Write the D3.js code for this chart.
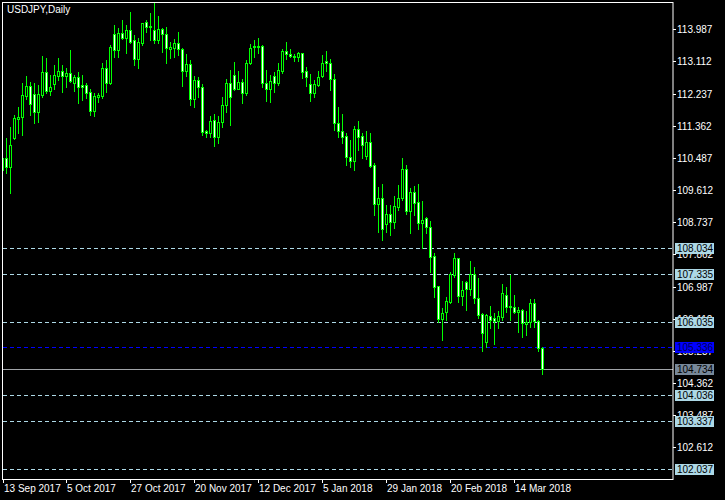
<!DOCTYPE html>
<html><head><meta charset="utf-8">
<script src="https://cdn.jsdelivr.net/npm/d3@7"></script>
<style>html,body{margin:0;padding:0;background:#000;overflow:hidden}svg{display:block}</style>
</head><body>
<svg id="c" width="725" height="500"></svg>
<script>
const symbolTitle = "USDJPY,Daily";
const openP = [110.158,110.476,110.231,111.038,111.555,111.591,112.181,112.444,112.217,111.727,
112.199,112.816,112.317,112.489,112.725,112.852,112.725,112.789,112.535,112.680,
112.462,112.462,112.272,111.773,112.154,112.181,112.925,112.516,113.850,113.423,
113.877,113.741,113.959,113.705,113.169,113.605,114.185,114.077,113.959,113.686,
113.986,113.850,113.442,113.469,113.605,113.442,112.861,113.043,112.081,112.607,
112.408,111.219,111.174,111.519,111.065,111.455,111.918,112.516,112.734,112.371,
112.544,112.262,113.061,113.514,113.532,113.532,112.516,112.371,112.716,112.516,
112.861,113.396,113.315,113.260,113.224,113.333,112.852,112.489,112.244,112.471,
112.716,113.115,113.061,112.625,111.428,111.228,111.083,110.503,110.412,111.265,
111.083,110.548,110.911,110.294,109.224,109.387,108.680,108.961,108.752,109.160,
109.387,110.176,109.052,109.550,109.278,108.725,108.843,108.616,107.818,107.002,
106.104,106.303,106.575,107.301,107.755,106.739,107.120,106.911,107.328,106.666,
106.231,105.487,106.194,106.122,106.049,106.167,106.748,106.457,106.439,106.303,
106.349,105.959,106.013,106.530,106.058,105.306];
const highP = [110.521,111.020,111.337,111.655,111.882,112.516,112.716,112.553,112.516,112.471,
113.260,113.197,112.743,113.015,113.197,113.015,112.925,113.423,112.743,112.834,
112.743,112.516,112.353,112.262,112.262,113.061,113.151,113.560,114.104,114.013,
114.240,114.104,114.467,113.832,113.741,114.167,114.240,114.421,114.693,114.349,
114.013,114.058,113.650,113.714,113.922,113.469,113.315,113.151,112.716,112.680,
112.498,111.247,111.628,111.682,111.628,112.154,112.634,112.879,113.097,112.852,
112.625,113.151,113.578,113.696,113.741,113.560,112.879,112.743,112.834,113.061,
113.451,113.650,113.442,113.315,113.378,113.351,112.970,112.770,112.607,112.852,
113.287,113.396,113.169,112.770,111.882,111.682,111.174,110.974,111.355,111.491,
111.174,111.219,111.156,110.340,109.686,109.777,109.206,109.206,109.451,109.750,
110.476,110.294,109.659,109.723,109.777,109.315,108.888,108.770,107.891,107.002,
106.394,106.711,107.392,107.891,107.755,107.138,107.138,107.682,107.528,107.210,
106.276,106.240,106.457,106.258,106.321,107.056,106.965,107.301,106.757,106.439,
106.367,106.321,106.639,106.648,106.076,105.333];
const lowP = [110.113,110.067,109.541,110.993,111.174,111.111,112.090,111.655,111.446,111.473,
112.154,112.244,112.199,112.353,112.607,112.290,112.408,112.562,112.317,111.972,
112.063,112.108,111.655,111.628,112.018,112.108,112.290,112.498,113.224,113.224,
113.714,113.333,113.623,113.015,112.925,113.560,113.922,113.696,113.623,113.623,
113.378,113.079,113.197,113.224,113.287,112.444,112.716,111.927,111.863,112.154,
111.111,111.047,111.047,110.811,110.902,111.337,111.745,111.383,112.335,112.353,
111.972,112.199,113.043,113.224,113.333,112.426,112.045,112.018,112.290,112.471,
112.807,113.169,113.242,113.133,113.133,112.652,112.444,112.045,112.154,112.444,
112.680,112.861,112.335,111.247,111.047,110.902,110.294,110.231,110.158,110.702,
110.476,110.448,110.231,108.934,108.480,108.253,108.480,108.390,108.589,109.070,
109.342,108.961,108.435,108.934,108.544,108.027,108.435,107.392,106.711,106.031,
105.532,106.076,106.548,107.256,106.575,106.485,106.349,106.757,106.530,106.122,
105.242,105.351,105.850,105.423,105.868,106.076,106.303,106.076,106.258,105.759,
105.605,105.668,105.895,105.877,105.242,104.607];
const closeP = [110.476,110.231,110.829,111.564,111.609,112.199,112.444,111.945,111.727,112.217,
112.816,112.317,112.426,112.743,112.852,112.725,112.798,112.589,112.680,112.426,
112.426,112.262,111.773,112.172,112.190,112.925,112.516,113.505,113.423,113.877,
113.741,113.959,113.650,113.169,113.632,114.149,114.058,114.040,113.686,113.986,
113.850,113.469,113.496,113.605,113.442,112.861,113.043,112.081,112.607,112.408,
111.201,111.174,111.491,111.065,111.455,111.918,112.516,112.135,112.371,112.544,
112.262,113.061,113.469,113.532,113.514,112.516,112.371,112.589,112.516,112.879,
113.396,113.306,113.269,113.224,113.351,112.834,112.680,112.244,112.489,112.698,
113.061,113.061,112.625,111.428,111.228,111.047,110.503,110.412,111.265,111.065,
110.838,110.911,110.276,109.224,109.387,108.553,108.961,108.752,109.179,109.387,
110.176,109.052,109.550,109.269,108.725,108.798,108.616,107.800,106.984,106.104,
106.258,106.594,107.328,107.755,106.739,106.893,106.911,107.328,106.666,106.213,
105.732,106.213,106.076,106.049,106.185,106.802,106.439,106.439,106.303,106.349,
105.986,106.013,106.530,106.058,105.306,104.734];
const dateLabels = ["13 Sep 2017","5 Oct 2017","27 Oct 2017","20 Nov 2017","12 Dec 2017","5 Jan 2018","29 Jan 2018","20 Feb 2018","14 Mar 2018"];
const dateLabelIdx = [0,16,32,48,64,80,96,112,128];
const priceTicks = [113.987,113.112,112.237,111.362,110.487,109.612,108.737,107.862,106.987,106.112,105.237,104.362,103.487,102.612];
const levelLines = [108.034,107.335,106.035,104.036,103.337,102.037];
const blueLevel = 105.336;
const bidLevel = 104.734;

const svg = d3.select("#c");
const L = 2, T = 2, R = 673, B = 479;
const x = d3.scaleLinear().domain([0, 135]).range([2, 542]);
const y = d3.scaleLinear().domain([113.987, 102.037]).range([29.3, 468.5]);
const FONT = "'Liberation Sans', Arial, sans-serif";

svg.append("rect").attr("width",725).attr("height",500).attr("fill","#000");
svg.append("defs").append("clipPath").attr("id","clip")
  .append("rect").attr("x",L+1).attr("y",T+1).attr("width",R-L-1).attr("height",B-T-1);

const plot = svg.append("g").attr("clip-path","url(#clip)");

// level lines
const dash = "4,3";
plot.selectAll("line.lvl").data(levelLines).join("line")
  .attr("x1",L+1).attr("x2",R)
  .attr("y1",d=>Math.round(y(d))+0.5).attr("y2",d=>Math.round(y(d))+0.5)
  .attr("stroke","#add8e6").attr("stroke-dasharray",dash).attr("stroke-width",1);
plot.append("line").attr("x1",L+1).attr("x2",R)
  .attr("y1",Math.round(y(blueLevel))+0.5).attr("y2",Math.round(y(blueLevel))+0.5)
  .attr("stroke","#0000ff").attr("stroke-dasharray",dash);
plot.append("line").attr("x1",L+1).attr("x2",R)
  .attr("y1",Math.round(y(bidLevel))+0.5).attr("y2",Math.round(y(bidLevel))+0.5)
  .attr("stroke","#a0a4a8");

// candles
const idx = d3.range(openP.length);
const G = "#00ff00";
const cg = plot.append("g");
idx.forEach(i=>{
  const cx = Math.round(x(i));
  const yh = Math.round(y(highP[i])), yl = Math.round(y(lowP[i]));
  const o = openP[i], c = closeP[i];
  const yt = Math.round(y(Math.max(o,c))), yb = Math.round(y(Math.min(o,c)));
  cg.append("rect").attr("x",cx).attr("y",yh).attr("width",1).attr("height",Math.max(1,yl-yh+1)).attr("fill",G);
  cg.append("rect").attr("x",cx-1).attr("y",yt).attr("width",3).attr("height",Math.max(1,yb-yt+1)).attr("fill",G);
  if (yb - yt >= 2) {
    cg.append("rect").attr("x",cx).attr("y",yt+1).attr("width",1).attr("height",yb-yt-1)
      .attr("fill", c < o ? "#ffffff" : "#000000");
  }
});

// frame
svg.append("rect").attr("x",L+0.5).attr("y",T+0.5).attr("width",R-L-0.5).attr("height",B-T)
  .attr("fill","none").attr("stroke","#fff");

// title
svg.append("text").attr("x",7).attr("y",13).attr("fill","#fff")
  .attr("font-family",FONT).attr("font-size","10px").text(symbolTitle);

// right axis ticks
const ra = svg.append("g");
priceTicks.forEach(p=>{
  const yy = Math.round(y(p));
  ra.append("line").attr("x1",R).attr("x2",R+3).attr("y1",yy+0.5).attr("y2",yy+0.5).attr("stroke","#fff");
  ra.append("text").attr("x",R+4).attr("y",yy+4).attr("fill","#fff")
    .attr("font-family",FONT).attr("font-size","10px").text(p.toFixed(3));
});

// level labels
function box(p, bg, fg){
  const yy = Math.round(y(p));
  ra.append("rect").attr("x",R+2).attr("y",yy-5).attr("width",39).attr("height",11).attr("fill",bg);
  ra.append("text").attr("x",R+4).attr("y",yy+4).attr("fill",fg)
    .attr("font-family",FONT).attr("font-size","10px").text(p.toFixed(3));
}
levelLines.forEach(p=>box(p,"#add8e6","#000"));
box(blueLevel,"#0000ff","#000050");
box(bidLevel,"#778899","#000");

// bottom axis
const ba = svg.append("g");
dateLabelIdx.forEach((di,k)=>{
  const xx = Math.max(L+1, Math.round(x(di)));
  ba.append("line").attr("x1",xx+0.5).attr("x2",xx+0.5).attr("y1",B).attr("y2",B+4).attr("stroke","#fff");
  ba.append("text").attr("x",xx+1).attr("y",492).attr("fill","#fff")
    .attr("font-family",FONT).attr("font-size","10px").text(dateLabels[k]);
});
</script>
</body></html>
